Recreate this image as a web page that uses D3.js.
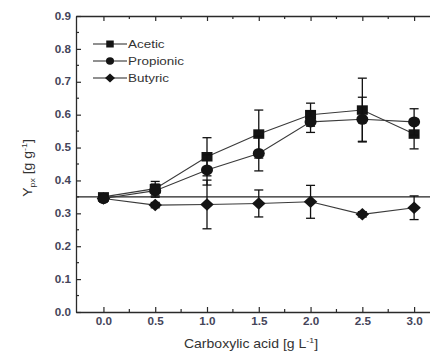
<!DOCTYPE html>
<html>
<head>
<meta charset="utf-8">
<script src="https://cdn.jsdelivr.net/npm/d3@7/dist/d3.min.js"></script>
<style>
  html, body { margin: 0; padding: 0; background: #fff; }
  svg { display: block; }
</style>
</head>
<body>
<svg id="chart" width="430" height="353"></svg>
<script>
// Carboxylic acid concentration [g/L]
const concentrations = [0.0, 0.5, 1.0, 1.5, 2.0, 2.5, 3.0];

// Yield Y_px [g/g] per acid, with standard deviations
const aceticValues    = [0.350, 0.375, 0.472, 0.541, 0.600, 0.614, 0.541];
const aceticErrors    = [0.010, 0.022, 0.058, 0.073, 0.035, 0.097, 0.045];
const propionicValues = [0.345, 0.369, 0.432, 0.482, 0.578, 0.586, 0.578];
const propionicErrors = [0.010, 0.020, 0.046, 0.053, 0.032, 0.067, 0.040];
const butyricValues   = [0.345, 0.325, 0.327, 0.330, 0.335, 0.297, 0.317];
const butyricErrors   = [0.008, 0.008, 0.074, 0.041, 0.050, 0.008, 0.036];

const referenceLevel = 0.35;

const xTickValues = [0.0, 0.5, 1.0, 1.5, 2.0, 2.5, 3.0];
const yTickValues = [0.0, 0.1, 0.2, 0.3, 0.4, 0.5, 0.6, 0.7, 0.8, 0.9];

const series = [
  { name: "Acetic",    symbol: "square",  values: aceticValues,    errors: aceticErrors },
  { name: "Propionic", symbol: "circle",  values: propionicValues, errors: propionicErrors },
  { name: "Butyric",   symbol: "diamond", values: butyricValues,   errors: butyricErrors }
];

const svg = d3.select("#chart");
const margin = { left: 76, top: 16, right: -10, bottom: 41 };
const width = 430 - margin.left - margin.right;
const height = 353 - margin.top - margin.bottom;

const x = d3.scaleLinear().domain([-0.265, 3.25]).range([margin.left, margin.left + width]);
const y = d3.scaleLinear().domain([0, 0.9]).range([margin.top + height, margin.top]);

const axisColor = "#2a2a2a";
const labelColor = "#45455a";
const fontFamily = "Arial, 'Liberation Sans', sans-serif";
const textStretch = 1.17; // glyphs are set slightly wide

// Widen a text element horizontally about its anchor point
function stretchAbout(sel, ax, ay) {
  sel.attr("transform", `translate(${ax},${ay}) scale(${textStretch},1) translate(${-ax},${-ay})`);
}

const g = svg.append("g");

// Reference line at the baseline yield
g.append("line")
  .attr("x1", x.range()[0]).attr("x2", x.range()[1])
  .attr("y1", y(referenceLevel)).attr("y2", y(referenceLevel))
  .attr("stroke", "#222").attr("stroke-width", 1.1);

// Axes: ticks point into the plot area
const xMinor = d3.range(0, 3.26, 0.25).filter(v => Math.abs(v * 2 - Math.round(v * 2)) > 1e-6);
const yMinor = d3.range(0.05, 0.9, 0.1);

function styleAxis(sel) {
  sel.select(".domain").attr("stroke", axisColor).attr("stroke-width", 1.3);
  sel.selectAll(".tick line").attr("stroke", axisColor).attr("stroke-width", 1.2);
  sel.selectAll(".tick text")
    .attr("fill", labelColor)
    .style("font-family", fontFamily)
    .style("font-size", "10px")
    .style("font-weight", "600")
    .each(function () {
      const t = d3.select(this);
      stretchAbout(t, +t.attr("x") || 0, 0);
    });
}

const bottomY = y(0);
const xAxis = g.append("g").attr("transform", `translate(0,${bottomY})`)
  .call(d3.axisBottom(x).tickValues(xTickValues).tickFormat(d3.format(".1f"))
    .tickSizeInner(-5).tickSizeOuter(0).tickPadding(6));
styleAxis(xAxis);
xAxis.append("g").selectAll("line").data(xMinor).join("line")
  .attr("x1", d => x(d)).attr("x2", d => x(d)).attr("y1", 0).attr("y2", -3)
  .attr("stroke", axisColor).attr("stroke-width", 1.2);

const topAxis = g.append("g").attr("transform", `translate(0,${y(0.9)})`)
  .call(d3.axisTop(x).tickValues(xTickValues).tickFormat("").tickSizeInner(-5).tickSizeOuter(0));
styleAxis(topAxis);
topAxis.append("g").selectAll("line").data(xMinor).join("line")
  .attr("x1", d => x(d)).attr("x2", d => x(d)).attr("y1", 0).attr("y2", 3)
  .attr("stroke", axisColor).attr("stroke-width", 1.2);

const yAxis = g.append("g").attr("transform", `translate(${x.range()[0]},0)`)
  .call(d3.axisLeft(y).tickValues(yTickValues).tickFormat(d3.format(".1f"))
    .tickSizeInner(-5).tickSizeOuter(0).tickPadding(5));
styleAxis(yAxis);
yAxis.append("g").selectAll("line").data(yMinor).join("line")
  .attr("x1", 0).attr("x2", 3).attr("y1", d => y(d)).attr("y2", d => y(d))
  .attr("stroke", axisColor).attr("stroke-width", 1.2);

// Axis titles
const xTitle = g.append("text")
  .attr("x", 251).attr("y", 348)
  .attr("text-anchor", "middle")
  .attr("fill", "#333")
  .style("font-family", fontFamily)
  .style("font-size", "12px")
  .html('Carboxylic acid [g L<tspan dy="-5" font-size="7.5px">-1</tspan><tspan dy="5">]</tspan>');
stretchAbout(xTitle, 251, 348);

g.append("g")
  .attr("transform", `translate(32,168) scale(1,${textStretch}) rotate(-90)`)
  .append("text")
  .attr("text-anchor", "middle")
  .attr("fill", "#333")
  .style("font-family", fontFamily)
  .style("font-size", "12px")
  .html('Y<tspan dy="3" font-size="7.5px">px</tspan><tspan dy="-3"> [g g</tspan><tspan dy="-5" font-size="7.5px">-1</tspan><tspan dy="5">]</tspan>');

// Marker shapes as paths centred on the origin
function markerPath(symbol, w, h) {
  const p = d3.path();
  if (symbol === "square") {
    p.rect(-w / 2, -h / 2, w, h);
  } else if (symbol === "diamond") {
    p.moveTo(0, -h / 2); p.lineTo(w / 2, 0); p.lineTo(0, h / 2); p.lineTo(-w / 2, 0); p.closePath();
  } else {
    p.ellipse ? p.ellipse(0, 0, w / 2, h / 2, 0, 0, 2 * Math.PI) : p.arc(0, 0, w / 2, 0, 2 * Math.PI);
  }
  return p.toString();
}
function ellipsePath(rx, ry) {
  return `M${-rx},0A${rx},${ry} 0 1,0 ${rx},0A${rx},${ry} 0 1,0 ${-rx},0Z`;
}
const markerSizes = {
  square:  [11, 9.5],
  circle:  [12, 11],
  diamond: [13.5, 12.5]
};
const legendSizes = {
  square:  [7.5, 7],
  circle:  [8, 7.5],
  diamond: [10, 9]
};
function shape(symbol, sizes) {
  const [w, h] = sizes[symbol];
  return symbol === "circle" ? ellipsePath(w / 2, h / 2) : markerPath(symbol, w, h);
}

const line = d3.line().x(d => x(d[0])).y(d => y(d[1]));

series.forEach(s => {
  const pts = concentrations.map((c, i) => [c, s.values[i], s.errors[i]]);
  const sg = g.append("g");

  sg.append("path")
    .attr("d", line(pts))
    .attr("fill", "none")
    .attr("stroke", "#3a3a3a")
    .attr("stroke-width", 1.1);

  // Error bars with caps
  const eb = sg.append("g").selectAll("g").data(pts).join("g");
  eb.append("line")
    .attr("x1", d => x(d[0])).attr("x2", d => x(d[0]))
    .attr("y1", d => y(d[1] - d[2])).attr("y2", d => y(d[1] + d[2]))
    .attr("stroke", "#111").attr("stroke-width", 1.3);
  [-1, 1].forEach(sign => {
    eb.append("line")
      .attr("x1", d => x(d[0]) - 4.5).attr("x2", d => x(d[0]) + 4.5)
      .attr("y1", d => y(d[1] + sign * d[2])).attr("y2", d => y(d[1] + sign * d[2]))
      .attr("stroke", "#111").attr("stroke-width", 1.3);
  });

  sg.append("g").selectAll("path").data(pts).join("path")
    .attr("transform", d => `translate(${x(d[0])},${y(d[1])})`)
    .attr("d", shape(s.symbol, markerSizes))
    .attr("fill", "#141414");
});

// Legend
const legend = g.append("g");
series.forEach((s, i) => {
  const ly = 44 + i * 17;
  legend.append("line").attr("x1", 93).attr("x2", 127).attr("y1", ly).attr("y2", ly)
    .attr("stroke", "#222").attr("stroke-width", 1.2);
  legend.append("path")
    .attr("transform", `translate(110,${ly})`)
    .attr("d", shape(s.symbol, legendSizes))
    .attr("fill", "#141414");
  const t = legend.append("text")
    .attr("x", 128).attr("y", ly + 4)
    .attr("fill", "#333")
    .style("font-family", fontFamily)
    .style("font-size", "11.5px")
    .text(s.name);
  stretchAbout(t, 128, ly + 4);
});
</script>
</body>
</html>
